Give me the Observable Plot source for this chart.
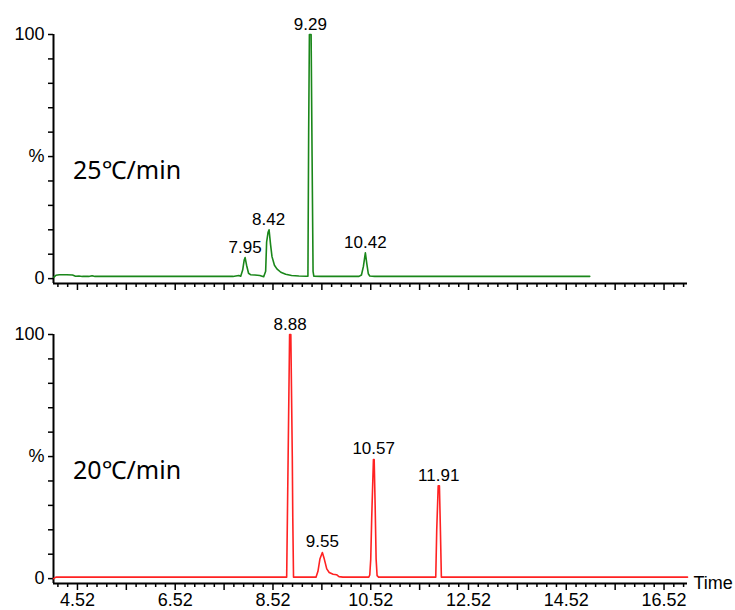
<!DOCTYPE html>
<html>
<head>
<meta charset="utf-8">
<script src="https://cdn.jsdelivr.net/npm/d3@7"></script>
<script src="https://cdn.jsdelivr.net/npm/@observablehq/plot@0.6"></script>
<style>
  html, body { margin: 0; padding: 0; background: #fff; }
  #chart svg { display: block; }
</style>
</head>
<body>
<div id="chart"></div>
<script>
// ---- Top trace: 25℃/min (green) ----
const greenTime = [4.04, 4.08, 4.15, 4.30, 4.42, 4.48, 4.55, 4.62, 4.75, 4.82, 4.88, 5.00, 6.00, 7.00, 7.70, 7.82, 7.86, 7.90, 7.93, 7.95, 7.98, 8.02, 8.06, 8.15, 8.25, 8.33, 8.37, 8.39, 8.42, 8.44, 8.47, 8.50, 8.55, 8.60, 8.68, 8.78, 8.90, 9.05, 9.20, 9.235, 9.25, 9.265, 9.30, 9.32, 9.34, 9.355, 9.50, 10.00, 10.28, 10.33, 10.37, 10.41, 10.44, 10.47, 10.50, 10.60, 11.50, 13.00, 15.00];
const greenValue = [0.6, 1.4, 1.6, 1.6, 1.5, 1.0, 1.1, 0.9, 0.9, 1.2, 0.9, 0.9, 0.9, 0.9, 0.9, 1.3, 1.0, 3.5, 7.5, 8.6, 5.5, 2.2, 1.6, 1.5, 1.3, 0.8, 3.0, 15, 19, 20, 14, 9, 5.5, 4.0, 2.6, 1.8, 1.3, 1.1, 1.0, 1.0, 60, 100, 100, 50, 3, 1.0, 0.9, 0.9, 0.9, 1.5, 5, 10.6, 6, 2, 1.1, 0.9, 0.9, 0.9, 0.9];
const greenPeakTimes = [7.95, 8.43, 9.285, 10.41];
const greenPeakValues = [8.6, 20, 100, 10.6];
const greenPeakLabels = ["7.95", "8.42", "9.29", "10.42"];

// ---- Bottom trace: 20℃/min (red) ----
const redTime = [4.03, 4.08, 5.00, 7.00, 8.50, 8.80, 8.815, 8.83, 8.845, 8.86, 8.875, 8.885, 8.90, 8.915, 8.925, 8.94, 9.10, 9.40, 9.44, 9.48, 9.53, 9.57, 9.62, 9.67, 9.75, 9.82, 9.87, 9.95, 10.30, 10.48, 10.50, 10.52, 10.54, 10.575, 10.59, 10.61, 10.63, 10.65, 10.68, 11.20, 11.85, 11.87, 11.90, 11.925, 11.945, 11.965, 12.20, 14.00, 17.00];
const redValue = [0.0, 0.6, 0.6, 0.6, 0.6, 0.6, 25, 50, 75, 100, 100, 100, 75, 50, 25, 0.6, 0.6, 0.6, 3, 8, 10.7, 8, 4, 2.5, 1.8, 1.6, 0.8, 0.6, 0.6, 0.6, 1.5, 8, 25, 48.8, 48.8, 30, 8, 1.2, 0.6, 0.6, 0.6, 20, 38, 38, 20, 0.6, 0.6, 0.6, 0.6];
const redPeakTimes = [8.87, 9.53, 10.58, 11.91];
const redPeakValues = [100, 10.7, 48.8, 38];
const redPeakLabels = ["8.88", "9.55", "10.57", "11.91"];

// ---- Axis ticks ----
const xMajorTicks = [4.52, 5.52, 6.52, 7.52, 8.52, 9.52, 10.52, 11.52, 12.52, 13.52, 14.52, 15.52, 16.52];
const xLabelTicks = [4.52, 6.52, 8.52, 10.52, 12.52, 14.52, 16.52];
const xTickLabels = ["4.52", "6.52", "8.52", "10.52", "12.52", "14.52", "16.52"];
const yTicks = [0, 10, 20, 30, 40, 50, 60, 70, 80, 90, 100];
const yLabelTicks = [0, 50, 100];
const yTickLabels = ["0", "%", "100"];
const panelTitles = ["25℃/min", "20℃/min"];

const X0 = 4.03, X1 = 17.0, Y0 = -2, Y1 = 100;
const xMinorTicks = d3.range(41, 170, 2).map(i => Math.round((i * 0.1 + 0.02) * 100) / 100).filter(t => !xMajorTicks.includes(t) && t > X0 && t < X1);

function panel(times, values, color, pTimes, pValues, pLabels, title, bottom) {
  const series = times.map((t, i) => ({t, v: values[i]}));
  const peaks = pTimes.map((t, i) => ({t, v: pValues[i], label: pLabels[i]}));
  const labelMap = new Map(xLabelTicks.map((t, i) => [t, xTickLabels[i]]));
  const yLabelMap = new Map(yLabelTicks.map((t, i) => [t, yTickLabels[i]]));
  return Plot.plot({
    width: 735,
    height: bottom ? 310 : 300,
    marginLeft: 53,
    marginRight: 48,
    marginTop: 34,
    marginBottom: bottom ? 27 : 17,
    x: {domain: [X0, X1]},
    y: {domain: [Y0, Y1]},
    style: {fontFamily: "'Liberation Sans', Arial, sans-serif", fontSize: "18px", color: "#000", background: "#fff"},
    marks: [
      Plot.axisY({ticks: yTicks, tickSize: 5, tickPadding: 4, fontSize: 18, label: null,
        tickFormat: d => yLabelMap.has(d) ? yLabelMap.get(d) : "", strokeWidth: 1.5}),
      Plot.axisX({ticks: xMinorTicks, tickSize: 4, label: null, tickFormat: () => "", strokeWidth: 1.5}),
      Plot.axisX({ticks: xMajorTicks, tickSize: 7, tickPadding: 3, label: null, fontSize: 18, strokeWidth: 1.5,
        tickFormat: d => bottom && labelMap.has(d) ? labelMap.get(d) : ""}),
      Plot.ruleY([Y0], {stroke: "#000", strokeWidth: 2}),
      Plot.ruleX([X0], {stroke: "#000", strokeWidth: 2}),
      Plot.line(series, {x: "t", y: "v", stroke: color, strokeWidth: 1.6, curve: "linear"}),
      Plot.text(peaks, {x: "t", y: "v", text: "label", lineAnchor: "bottom", dy: -5, fontSize: 17, fill: "#000"}),
      Plot.text([title], {x: 4.43, y: 44, text: d => d, textAnchor: "start", fontSize: 25,
        fontFamily: "'Noto Sans', 'DejaVu Sans', sans-serif", fill: "#000"}),
      bottom ? Plot.text(["Time"], {x: X1, y: Y0, text: d => d, textAnchor: "start", dx: 6, fontSize: 18, fill: "#000"}) : null
    ]
  });
}

const chart = document.getElementById("chart");
chart.appendChild(panel(greenTime, greenValue, "#1a871a", greenPeakTimes, greenPeakValues, greenPeakLabels, panelTitles[0], false));
chart.appendChild(panel(redTime, redValue, "#ff2222", redPeakTimes, redPeakValues, redPeakLabels, panelTitles[1], true));
</script>
</body>
</html>
